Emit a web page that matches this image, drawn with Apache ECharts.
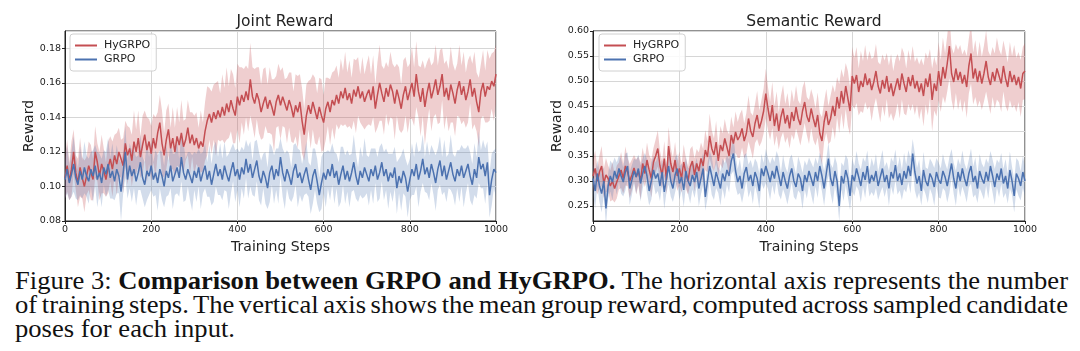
<!DOCTYPE html>
<html>
<head>
<meta charset="UTF-8">
<title>Comparison between GRPO and HyGRPO</title>
<script src="https://cdn.jsdelivr.net/npm/echarts@6/dist/echarts.min.js"></script>
<style>
	body { margin: 0; background: #fff; }
	#chart { position: absolute; left: 0; top: 0; width: 1080px; height: 262px; }
	#caption { position: absolute; left: 15px; top: 269px; font-family: "Liberation Serif", "Times New Roman", serif; font-size: 24.5px; line-height: 24px; color: #111; white-space: nowrap; transform-origin: 0 0; }
</style>
</head>
<body>
<div id="chart"></div>
<div id="caption">
	<div><span class="ln">Figure 3: <b>Comparison between GRPO and HyGRPO.</b> The horizontal axis represents the number</span></div>
	<div><span class="ln">of training steps. The vertical axis shows the mean group reward, computed across sampled candidate</span></div>
	<div><span class="ln">poses for each input.</span></div>
</div>
<script>
// sampled every 5 training steps, 0..1000
var STEP = 5;
var legendNames = ['HyGRPO', 'GRPO'];
var xTicks = [0, 1000, 200];

// Joint Reward - HyGRPO mean / spread
var jointHy = [0.105,0.112,0.103,0.110,0.120,0.108,0.102,0.111,0.105,0.100,0.106,
	0.112,0.108,0.104,0.120,0.114,0.106,0.113,0.109,0.104,0.111,
	0.116,0.110,0.118,0.113,0.120,0.116,0.112,0.125,0.118,0.122,
	0.115,0.126,0.120,0.128,0.117,0.124,0.130,0.121,0.126,0.119,
	0.128,0.122,0.131,0.137,0.125,0.118,0.127,0.133,0.122,0.128,
	0.120,0.129,0.124,0.131,0.123,0.127,0.134,0.125,0.130,0.124,
	0.128,0.122,0.126,0.123,0.132,0.138,0.142,0.137,0.143,0.139,
	0.144,0.140,0.146,0.141,0.148,0.143,0.150,0.145,0.141,0.152,
	0.147,0.153,0.149,0.155,0.150,0.162,0.152,0.148,0.154,0.150,
	0.143,0.148,0.152,0.145,0.150,0.146,0.141,0.149,0.153,0.147,
	0.152,0.148,0.144,0.150,0.146,0.140,0.147,0.143,0.149,0.138,
	0.130,0.141,0.147,0.142,0.149,0.144,0.139,0.146,0.141,0.137,
	0.145,0.149,0.143,0.150,0.147,0.153,0.148,0.155,0.151,0.157,
	0.150,0.154,0.148,0.156,0.152,0.158,0.151,0.155,0.149,0.153,
	0.156,0.150,0.158,0.145,0.153,0.160,0.154,0.149,0.157,0.152,
	0.159,0.155,0.148,0.156,0.151,0.145,0.153,0.158,0.150,0.155,
	0.160,0.152,0.165,0.155,0.149,0.157,0.146,0.154,0.160,0.151,
	0.156,0.162,0.153,0.158,0.165,0.152,0.157,0.150,0.159,0.154,
	0.148,0.156,0.161,0.153,0.158,0.150,0.155,0.162,0.152,0.157,
	0.149,0.143,0.155,0.160,0.152,0.158,0.156,0.161,0.158,0.165];
var jointHySd = [0.012,0.015,0.011,0.016,0.013,0.010,0.014,0.017,0.012,0.015,0.011,
	0.014,0.016,0.012,0.015,0.011,0.014,0.017,0.013,0.010,0.015,
	0.013,0.016,0.012,0.018,0.014,0.011,0.016,0.013,0.017,0.012,
	0.015,0.018,0.013,0.016,0.012,0.017,0.014,0.019,0.013,0.016,
	0.014,0.018,0.012,0.016,0.019,0.013,0.017,0.015,0.012,0.018,
	0.014,0.017,0.013,0.019,0.015,0.012,0.016,0.018,0.013,0.017,
	0.015,0.012,0.018,0.014,0.017,0.020,0.015,0.018,0.016,0.021,
	0.017,0.014,0.019,0.016,0.021,0.015,0.018,0.020,0.016,0.019,
	0.022,0.016,0.019,0.015,0.018,0.021,0.017,0.020,0.015,0.019,
	0.016,0.020,0.017,0.014,0.019,0.016,0.021,0.015,0.018,0.020,
	0.017,0.014,0.019,0.016,0.020,0.015,0.018,0.021,0.016,0.019,
	0.015,0.018,0.014,0.020,0.016,0.019,0.015,0.017,0.021,0.016,
	0.018,0.014,0.019,0.016,0.020,0.017,0.015,0.019,0.016,0.021,
	0.016,0.019,0.015,0.018,0.021,0.017,0.014,0.020,0.016,0.018,
	0.020,0.015,0.018,0.014,0.019,0.022,0.016,0.019,0.015,0.017,
	0.019,0.016,0.021,0.015,0.018,0.014,0.020,0.017,0.019,0.016,
	0.021,0.017,0.019,0.015,0.020,0.016,0.022,0.018,0.015,0.019,
	0.016,0.020,0.017,0.021,0.015,0.019,0.016,0.018,0.022,0.017,
	0.019,0.015,0.021,0.017,0.020,0.016,0.018,0.014,0.019,0.021,
	0.017,0.020,0.016,0.019,0.015,0.021,0.018,0.016,0.020,0.017];

// Joint Reward - GRPO mean / spread
var jointG = [0.104,0.110,0.102,0.107,0.113,0.105,0.101,0.109,0.104,0.111,0.106,
	0.103,0.110,0.106,0.112,0.104,0.108,0.102,0.111,0.107,0.113,
	0.105,0.109,0.103,0.110,0.106,0.097,0.108,0.120,0.104,0.112,
	0.106,0.110,0.103,0.108,0.114,0.105,0.101,0.109,0.106,0.112,
	0.104,0.108,0.102,0.110,0.106,0.100,0.109,0.105,0.112,0.103,
	0.107,0.111,0.105,0.117,0.108,0.104,0.110,0.106,0.102,0.109,
	0.105,0.111,0.103,0.108,0.112,0.104,0.109,0.101,0.107,0.113,
	0.106,0.110,0.104,0.112,0.107,0.103,0.109,0.114,0.106,0.110,
	0.104,0.111,0.107,0.116,0.108,0.113,0.105,0.110,0.115,0.106,
	0.102,0.109,0.105,0.099,0.108,0.112,0.104,0.110,0.106,0.117,
	0.108,0.103,0.110,0.106,0.101,0.109,0.113,0.105,0.108,0.102,
	0.107,0.111,0.104,0.098,0.106,0.110,0.103,0.095,0.102,0.108,
	0.104,0.110,0.106,0.113,0.105,0.109,0.101,0.107,0.112,0.104,
	0.109,0.103,0.108,0.114,0.106,0.101,0.109,0.105,0.111,0.107,
	0.103,0.110,0.106,0.112,0.104,0.108,0.114,0.106,0.110,0.103,
	0.108,0.105,0.111,0.099,0.106,0.102,0.109,0.105,0.097,0.104,
	0.110,0.106,0.113,0.104,0.109,0.116,0.107,0.111,0.105,0.113,
	0.108,0.102,0.110,0.115,0.106,0.112,0.104,0.109,0.114,0.107,
	0.103,0.110,0.106,0.112,0.105,0.109,0.113,0.106,0.101,0.110,
	0.105,0.117,0.110,0.113,0.106,0.114,0.095,0.104,0.110,0.108];
var jointGSd = [0.011,0.014,0.010,0.013,0.016,0.012,0.009,0.014,0.011,0.015,0.012,
	0.013,0.010,0.015,0.012,0.016,0.011,0.014,0.010,0.013,0.015,
	0.012,0.016,0.011,0.014,0.010,0.017,0.012,0.015,0.011,0.013,
	0.015,0.011,0.014,0.010,0.016,0.012,0.013,0.017,0.011,0.014,
	0.010,0.013,0.016,0.011,0.014,0.012,0.015,0.010,0.013,0.016,
	0.012,0.015,0.011,0.014,0.017,0.012,0.010,0.014,0.016,0.011,
	0.014,0.011,0.016,0.012,0.013,0.010,0.015,0.012,0.016,0.013,
	0.011,0.015,0.012,0.014,0.010,0.016,0.013,0.011,0.015,0.012,
	0.016,0.012,0.014,0.011,0.015,0.013,0.010,0.016,0.012,0.014,
	0.013,0.010,0.015,0.012,0.017,0.011,0.014,0.012,0.016,0.011,
	0.014,0.016,0.011,0.013,0.010,0.015,0.012,0.017,0.013,0.011,
	0.012,0.015,0.010,0.014,0.016,0.012,0.013,0.010,0.015,0.012,
	0.016,0.011,0.014,0.012,0.015,0.010,0.013,0.016,0.011,0.014,
	0.012,0.015,0.011,0.016,0.013,0.010,0.014,0.012,0.017,0.011,
	0.014,0.012,0.016,0.010,0.013,0.015,0.011,0.014,0.012,0.016,
	0.011,0.014,0.012,0.015,0.010,0.016,0.013,0.011,0.015,0.012,
	0.015,0.011,0.013,0.016,0.012,0.014,0.010,0.015,0.013,0.011,
	0.013,0.016,0.012,0.014,0.011,0.015,0.013,0.010,0.016,0.012,
	0.014,0.011,0.015,0.012,0.017,0.013,0.011,0.014,0.012,0.015,
	0.012,0.015,0.011,0.014,0.016,0.012,0.013,0.015,0.011,0.014];

// Semantic Reward - HyGRPO mean / spread
var semHy = [0.310,0.325,0.300,0.318,0.330,0.295,0.312,0.305,0.290,0.300,0.285,
	0.298,0.310,0.322,0.305,0.330,0.318,0.300,0.312,0.326,0.308,
	0.320,0.300,0.335,0.315,0.342,0.322,0.305,0.338,0.350,0.365,
	0.330,0.312,0.345,0.302,0.370,0.335,0.318,0.342,0.310,0.325,
	0.305,0.338,0.315,0.300,0.328,0.340,0.312,0.335,0.320,0.345,
	0.330,0.362,0.348,0.390,0.365,0.352,0.378,0.340,0.372,0.360,
	0.385,0.368,0.350,0.392,0.375,0.398,0.382,0.390,0.405,0.380,
	0.395,0.425,0.400,0.388,0.415,0.432,0.405,0.420,0.440,0.475,
	0.445,0.420,0.452,0.410,0.435,0.400,0.428,0.445,0.415,0.432,
	0.405,0.438,0.420,0.448,0.425,0.412,0.440,0.458,0.430,0.418,
	0.445,0.425,0.408,0.432,0.395,0.380,0.418,0.440,0.412,0.425,
	0.450,0.430,0.468,0.445,0.480,0.455,0.490,0.465,0.440,0.510,
	0.495,0.512,0.478,0.500,0.488,0.515,0.492,0.505,0.482,0.498,
	0.520,0.490,0.475,0.502,0.485,0.510,0.478,0.495,0.470,0.488,
	0.505,0.482,0.515,0.495,0.478,0.508,0.490,0.512,0.485,0.500,
	0.478,0.495,0.470,0.505,0.488,0.515,0.462,0.495,0.480,0.520,
	0.490,0.528,0.505,0.535,0.570,0.515,0.498,0.525,0.502,0.518,
	0.495,0.512,0.488,0.530,0.555,0.505,0.525,0.498,0.520,0.495,
	0.515,0.540,0.508,0.492,0.518,0.500,0.525,0.510,0.495,0.530,
	0.505,0.488,0.520,0.498,0.512,0.492,0.508,0.485,0.515,0.520];
var semHySd = [0.030,0.036,0.027,0.033,0.040,0.029,0.034,0.026,0.031,0.038,0.028,
	0.033,0.027,0.036,0.030,0.039,0.028,0.034,0.031,0.026,0.035,
	0.029,0.037,0.032,0.027,0.035,0.030,0.038,0.028,0.033,0.036,
	0.031,0.027,0.035,0.029,0.038,0.032,0.028,0.036,0.030,0.034,
	0.028,0.035,0.031,0.027,0.036,0.030,0.033,0.029,0.037,0.032,
	0.034,0.040,0.031,0.045,0.036,0.033,0.042,0.030,0.038,0.035,
	0.039,0.034,0.043,0.037,0.032,0.041,0.036,0.044,0.038,0.035,
	0.041,0.046,0.037,0.043,0.039,0.048,0.036,0.042,0.045,0.050,
	0.043,0.038,0.046,0.040,0.044,0.037,0.042,0.047,0.039,0.044,
	0.040,0.045,0.038,0.043,0.036,0.041,0.047,0.042,0.038,0.044,
	0.039,0.043,0.037,0.045,0.041,0.048,0.040,0.044,0.038,0.046,
	0.042,0.047,0.040,0.049,0.044,0.052,0.046,0.055,0.048,0.058,
	0.051,0.056,0.047,0.060,0.052,0.057,0.049,0.055,0.062,0.050,
	0.054,0.048,0.058,0.051,0.056,0.046,0.053,0.059,0.050,0.055,
	0.049,0.057,0.052,0.060,0.047,0.054,0.050,0.058,0.053,0.048,
	0.055,0.050,0.061,0.052,0.057,0.049,0.063,0.054,0.051,0.058,
	0.052,0.059,0.050,0.056,0.064,0.053,0.057,0.049,0.060,0.054,
	0.058,0.051,0.062,0.055,0.060,0.052,0.057,0.050,0.059,0.053,
	0.056,0.061,0.052,0.058,0.050,0.055,0.062,0.053,0.057,0.051,
	0.055,0.049,0.058,0.052,0.060,0.054,0.050,0.057,0.053,0.056];

// Semantic Reward - GRPO mean / spread
var semG = [0.305,0.280,0.315,0.290,0.275,0.300,0.245,0.290,0.310,0.298,0.320,
	0.305,0.325,0.310,0.298,0.318,0.330,0.285,0.302,0.320,0.308,
	0.325,0.295,0.315,0.330,0.310,0.280,0.300,0.322,0.305,0.315,
	0.290,0.318,0.278,0.305,0.330,0.300,0.285,0.312,0.325,0.295,
	0.308,0.282,0.320,0.300,0.290,0.312,0.298,0.318,0.285,0.305,
	0.325,0.268,0.300,0.330,0.310,0.290,0.318,0.302,0.285,0.315,
	0.300,0.322,0.310,0.340,0.355,0.320,0.298,0.310,0.285,0.315,
	0.328,0.300,0.312,0.290,0.318,0.305,0.280,0.325,0.310,0.330,
	0.315,0.298,0.320,0.305,0.330,0.310,0.290,0.318,0.300,0.285,
	0.310,0.325,0.300,0.288,0.315,0.305,0.280,0.312,0.298,0.320,
	0.305,0.290,0.318,0.300,0.330,0.310,0.285,0.315,0.345,0.305,
	0.290,0.320,0.300,0.250,0.310,0.295,0.322,0.305,0.270,0.312,
	0.300,0.325,0.308,0.290,0.318,0.302,0.330,0.295,0.312,0.300,
	0.320,0.290,0.308,0.325,0.298,0.312,0.285,0.318,0.305,0.332,
	0.300,0.315,0.292,0.320,0.305,0.330,0.310,0.355,0.318,0.295,
	0.310,0.280,0.322,0.300,0.290,0.315,0.305,0.288,0.318,0.302,
	0.295,0.320,0.308,0.290,0.312,0.335,0.305,0.285,0.318,0.300,
	0.325,0.305,0.290,0.315,0.330,0.298,0.310,0.285,0.320,0.305,
	0.295,0.318,0.300,0.330,0.310,0.288,0.315,0.302,0.325,0.295,
	0.310,0.285,0.322,0.300,0.270,0.315,0.305,0.290,0.318,0.300];
var semGSd = [0.030,0.035,0.026,0.032,0.038,0.028,0.034,0.025,0.031,0.036,0.027,
	0.032,0.026,0.035,0.029,0.037,0.027,0.033,0.030,0.025,0.034,
	0.028,0.036,0.031,0.026,0.034,0.029,0.037,0.027,0.032,0.035,
	0.030,0.026,0.034,0.028,0.037,0.031,0.027,0.035,0.029,0.033,
	0.027,0.034,0.030,0.026,0.035,0.029,0.032,0.028,0.036,0.031,
	0.033,0.027,0.035,0.030,0.038,0.028,0.032,0.026,0.034,0.030,
	0.036,0.029,0.033,0.027,0.035,0.031,0.026,0.034,0.029,0.037,
	0.028,0.033,0.030,0.036,0.027,0.032,0.035,0.029,0.026,0.034,
	0.031,0.036,0.028,0.033,0.030,0.037,0.027,0.034,0.029,0.032,
	0.035,0.028,0.032,0.026,0.034,0.030,0.036,0.029,0.033,0.027,
	0.032,0.037,0.029,0.034,0.027,0.031,0.035,0.028,0.033,0.030,
	0.036,0.029,0.034,0.031,0.027,0.035,0.030,0.038,0.028,0.033,
	0.030,0.035,0.027,0.033,0.029,0.036,0.031,0.026,0.034,0.030,
	0.034,0.028,0.032,0.037,0.030,0.026,0.035,0.029,0.033,0.031,
	0.027,0.034,0.030,0.036,0.028,0.032,0.035,0.029,0.037,0.031,
	0.033,0.029,0.036,0.027,0.034,0.030,0.032,0.038,0.028,0.035,
	0.030,0.034,0.028,0.033,0.036,0.029,0.031,0.035,0.027,0.032,
	0.036,0.030,0.033,0.028,0.035,0.031,0.037,0.029,0.034,0.030,
	0.032,0.027,0.035,0.030,0.033,0.036,0.028,0.034,0.031,0.029,
	0.034,0.030,0.037,0.028,0.033,0.031,0.035,0.029,0.032,0.030];

var RED = '#c44e52', BLUE = '#4c72b0';
var RED_BAND = 'rgba(196,78,82,0.28)', BLUE_BAND = 'rgba(76,114,176,0.25)';
var FONT = 'DejaVu Sans';

var steps = jointHy.map(function(v, i) { return i * STEP; });

function meanLine(name, vals, color, idx) {
	return {
		name: name, type: 'line', xAxisIndex: idx, yAxisIndex: idx,
		data: vals.map(function(v, i) { return [steps[i], v]; }),
		symbol: 'none', z: 3,
		lineStyle: { color: color, width: 1.5 },
		itemStyle: { color: color }
	};
}

// shaded mean +/- sd band, drawn as one polygon through the axis scales
function band(mean, sd, color, idx) {
	return {
		type: 'custom', xAxisIndex: idx, yAxisIndex: idx, silent: true, z: 1,
		data: mean.map(function(v, i) { return [steps[i], v - sd[i], v + sd[i]]; }),
		encode: { x: 0, y: [1, 2] },
		renderItem: function(params, api) {
			if (params.dataIndex !== 0) return null;
			var upper = [], lower = [];
			for (var i = 0; i < mean.length; i++) {
				upper.push(api.coord([steps[i], mean[i] + sd[i]]));
				lower.unshift(api.coord([steps[i], mean[i] - sd[i]]));
			}
			var cs = params.coordSys;
			return {
				type: 'polygon',
				shape: { points: upper.concat(lower) },
				style: { fill: color },
				clipPath: { type: 'rect', shape: { x: cs.x, y: cs.y, width: cs.width, height: cs.height } }
			};
		}
	};
}

function xAxis(idx) {
	return {
		type: 'value', gridIndex: idx, min: xTicks[0], max: xTicks[1], interval: xTicks[2],
		name: 'Training Steps', nameLocation: 'middle', nameGap: 18,
		nameTextStyle: { fontFamily: FONT, fontSize: 14, color: '#222' },
		axisLine: { lineStyle: { color: '#222', width: 1 } },
		axisTick: { length: 3, lineStyle: { color: '#222' } },
		axisLabel: { fontFamily: FONT, fontSize: 9.5, color: '#222', margin: 4,
			formatter: function(v) { return String(v); } },
		splitLine: { lineStyle: { color: '#d6d6d6', width: 1 } }
	};
}

function yAxis(idx, extra) {
	var ax = {
		type: 'value', gridIndex: idx,
		name: 'Reward', nameLocation: 'middle', nameGap: 29,
		nameTextStyle: { fontFamily: FONT, fontSize: 14, color: '#222' },
		axisLine: { show: true, lineStyle: { color: '#222', width: 1 } },
		axisTick: { show: true, length: 3, lineStyle: { color: '#222' } },
		axisLabel: { fontFamily: FONT, fontSize: 9.5, color: '#222', margin: 4,
			formatter: function(v) { return v.toFixed(2); } },
		splitLine: { lineStyle: { color: '#d6d6d6', width: 1 } }
	};
	for (var k in extra) {
		if (k === 'axisLabel') { for (var j in extra.axisLabel) ax.axisLabel[j] = extra.axisLabel[j]; }
		else ax[k] = extra[k];
	}
	return ax;
}

function legend(left) {
	return {
		data: legendNames, orient: 'vertical', left: left, top: 34,
		backgroundColor: 'rgba(255,255,255,0.85)', borderColor: '#d0d0d0', borderWidth: 1, borderRadius: 3,
		padding: [6, 6, 6, 5], itemGap: 3, itemWidth: 22, itemHeight: 2, icon: 'rect',
		textStyle: { fontFamily: FONT, fontSize: 11, color: '#222', padding: [0, 0, 0, 2] }
	};
}

var series = [
	band(jointHy, jointHySd, RED_BAND, 0),
	band(jointG, jointGSd, BLUE_BAND, 0),
	band(semHy, semHySd, RED_BAND, 1),
	band(semG, semGSd, BLUE_BAND, 1),
	meanLine('HyGRPO', jointHy, RED, 0), meanLine('GRPO', jointG, BLUE, 0),
	meanLine('HyGRPO', semHy, RED, 1), meanLine('GRPO', semG, BLUE, 1)
];

var chart = echarts.init(document.getElementById('chart'));
chart.setOption({
	animation: false,
	title: [
		{ text: 'Joint Reward', left: 280, top: 9, textAlign: 'center',
		  textStyle: { fontFamily: FONT, fontSize: 15.5, fontWeight: 'normal', color: '#222' } },
		{ text: 'Semantic Reward', left: 809, top: 9, textAlign: 'center',
		  textStyle: { fontFamily: FONT, fontSize: 15.5, fontWeight: 'normal', color: '#222' } }
	],
	legend: [legend(70), legend(599)],
	grid: [
		{ left: 65, top: 31, width: 431, height: 190, show: true, borderColor: '#222', borderWidth: 1 },
		{ left: 593, top: 31, width: 432, height: 190, show: true, borderColor: '#222', borderWidth: 1 }
	],
	xAxis: [xAxis(0), xAxis(1)],
	yAxis: [
		yAxis(0, { min: 0.08, max: 0.19, interval: 0.02, axisLabel: { showMaxLabel: false } }),
		yAxis(1, { min: 0.22, max: 0.60, splitNumber: 8, axisLabel: { showMinLabel: false } })
	],
	series: series
});

// caption: stretch to the text block width, justify the first two lines
var CAP_W = 1053;
var cap = document.getElementById('caption');
var lns = cap.querySelectorAll('.ln');
var natural = lns[0].getBoundingClientRect().width;
var w2 = lns[1].getBoundingClientRect().width;
var gaps = (lns[1].textContent.match(/ /g) || []).length;
if (gaps) lns[1].style.wordSpacing = ((natural - w2) / gaps) + 'px';
cap.style.transform = 'scaleX(' + (CAP_W / natural) + ')';
</script>
</body>
</html>
